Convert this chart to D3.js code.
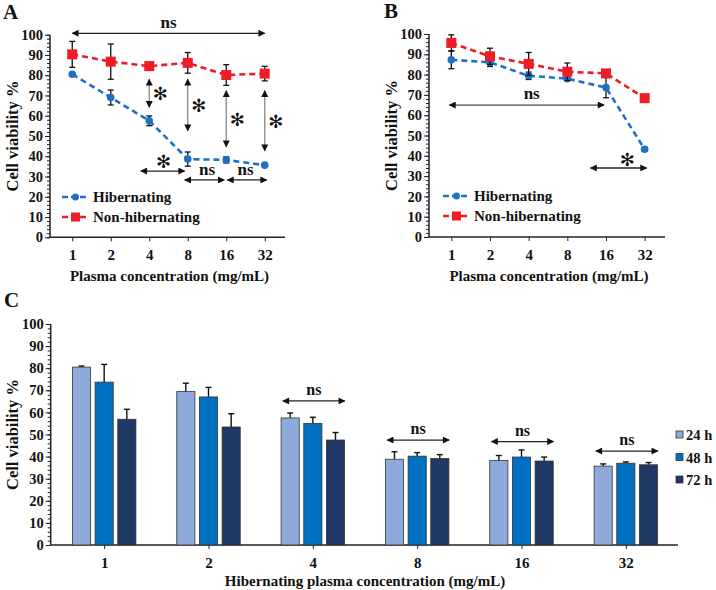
<!DOCTYPE html>
<html>
<head>
<meta charset="utf-8">
<script src="https://cdn.jsdelivr.net/npm/d3@7"></script>
<style>
  body { margin: 0; background: #fff; }
  svg text { font-family: "Liberation Serif", "Times New Roman", serif; font-weight: bold; }
</style>
</head>
<body>
<div id="chart"></div>
<script>
const concs = ["1", "2", "4", "8", "16", "32"];

// panel A
const hibA = [80.5, 69, 57.5, 38.6, 38.2, 35.6];
const hibAErr = [0.6, 3.7, 2.4, 3.5, 1.5, 0.6];
const nonA = [90.3, 86.7, 84.5, 86.1, 80.1, 80.8];
const nonAErr = [6.4, 8.7, 1.8, 5.1, 5.1, 3.6];

// panel B
const hibB = [87.3, 86, 79.4, 78, 73.6, 43.2];
const hibBErr = [4.4, 2, 1.8, 0.8, 5, 1];
const nonB = [95.6, 89, 85.3, 81.4, 80.6, 68.4];
const nonBErr = [4, 4, 5.6, 4.3, 1.2, 1];

// panel C
const times = ["24 h", "48 h", "72 h"];
const bar24 = [80.5, 69.4, 57.5, 38.8, 38.3, 35.7];
const bar48 = [73.7, 67, 55, 40.2, 39.8, 37];
const bar72 = [56.9, 53.4, 47.5, 39.1, 38, 36.3];
const err24 = [0.5, 3.8, 2.2, 3.4, 2.2, 1];
const err48 = [8, 4.3, 2.8, 1.6, 3.2, 0.6];
const err72 = [4.5, 6, 3.4, 1.8, 1.8, 1];

const yTicks = [0, 10, 20, 30, 40, 50, 60, 70, 80, 90, 100];
const seriesNames = ["Hibernating", "Non-hibernating"];

const blue = "#1f6fc6", red = "#ee1c24";
const barColors = ["#8eaadb", "#0070c0", "#203864"];

const svg = d3.select("#chart").append("svg")
  .attr("width", 716).attr("height", 590);

const defs = svg.append("defs");
defs.append("marker").attr("id", "arr")
  .attr("viewBox", "0 0 10 10").attr("refX", 9).attr("refY", 5)
  .attr("markerWidth", 8).attr("markerHeight", 7)
  .attr("markerUnits", "userSpaceOnUse")
  .attr("orient", "auto-start-reverse")
  .append("path").attr("d", "M0,0L10,5L0,10z").attr("fill", "#111");

function yAxis(g, y, x0) {
  const ax = g.append("g").attr("transform", `translate(${x0},0)`)
    .call(d3.axisLeft(y).tickValues(d3.range(0, 101, 2)).tickSize(3).tickFormat(""));
  ax.select(".domain").remove();
  ax.selectAll(".tick line").attr("stroke", "#222").attr("stroke-width", 1);
  ax.append("line").attr("y1", y(0)).attr("y2", y(100)).attr("stroke", "#222").attr("stroke-width", 1.5);
  const lab = g.append("g").attr("transform", `translate(${x0},0)`)
    .call(d3.axisLeft(y).tickValues(yTicks).tickSize(5).tickPadding(2));
  lab.select(".domain").remove();
  lab.selectAll(".tick line").attr("stroke", "#222");
  lab.selectAll("text").attr("font-size", 14.5).attr("fill", "#111");
}

function xAxis(g, x, yPos, xr) {
  g.append("line").attr("x1", xr[0]).attr("x2", xr[1]).attr("y1", yPos).attr("y2", yPos)
    .attr("stroke", "#222").attr("stroke-width", 1.5);
  const ax = g.append("g").attr("transform", `translate(0,${yPos})`)
    .call(d3.axisBottom(x).tickSize(4).tickPadding(8));
  ax.select(".domain").remove();
  ax.selectAll(".tick line").attr("stroke", "#222");
  ax.selectAll("text").attr("font-size", 15).attr("fill", "#111");
}

function arrow(g, x1, y1, x2, y2, col) {
  g.append("line").attr("x1", x1).attr("y1", y1).attr("x2", x2).attr("y2", y2)
    .attr("stroke", col || "#888").attr("stroke-width", 1.3)
    .attr("marker-start", "url(#arr)").attr("marker-end", "url(#arr)");
}

function star(g, x, y) {
  g.append("text").attr("x", x).attr("y", y).attr("text-anchor", "middle")
    .attr("font-size", 18).attr("fill", "#111")
    .style("font-family", "DejaVu Sans").text("\u273B");
}

function ns(g, x, y, size) {
  g.append("text").attr("x", x).attr("y", y).attr("text-anchor", "middle")
    .attr("font-size", size || 17).attr("fill", "#111").text("ns");
}

function linePanel(o) {
  const g = svg.append("g");
  const x = d3.scalePoint().domain(concs).range([o.x0 + 3, o.x1 - 1]).padding(0.5);
  const y = d3.scaleLinear().domain([0, 100]).range(o.yr);
  yAxis(g, y, o.x0);
  xAxis(g, x, y(0), [o.x0, o.x1]);

  g.append("text").attr("transform", `translate(${o.x0 - 32},${(y(0) + y(100)) / 2}) rotate(-90)`)
    .attr("text-anchor", "middle").attr("font-size", 16.5).attr("fill", "#111").text("Cell viability %");
  g.append("text").attr("x", (x("1") + x("32")) / 2 + 1).attr("y", y(0) + 44)
    .attr("text-anchor", "middle").attr("font-size", 15).attr("fill", "#111").text("Plasma concentration (mg/mL)");
  g.append("text").attr("x", o.letter[0]).attr("y", o.letter[1])
    .attr("font-size", 21).attr("fill", "#111").text(o.label);

  const series = [
    { v: o.hib, e: o.hibErr, c: blue, shape: "circle" },
    { v: o.non, e: o.nonErr, c: red, shape: "square" }
  ];
  const line = d3.line().x((d, i) => x(concs[i])).y(d => y(d));
  series.forEach(s => {
    g.append("path").attr("d", line(s.v)).attr("fill", "none").attr("stroke", s.c)
      .attr("stroke-width", 2.6).attr("stroke-dasharray", "6,4");
  });
  series.forEach(s => {
    s.v.forEach((v, i) => {
      const cx = x(concs[i]);
      g.append("line").attr("x1", cx).attr("x2", cx).attr("y1", y(v - s.e[i])).attr("y2", y(v + s.e[i]))
        .attr("stroke", "#111").attr("stroke-width", 1.3);
      [v - s.e[i], v + s.e[i]].forEach(t => g.append("line").attr("x1", cx - 3).attr("x2", cx + 3)
        .attr("y1", y(t)).attr("y2", y(t)).attr("stroke", "#111").attr("stroke-width", 1.3));
    });
    s.v.forEach((v, i) => {
      const cx = x(concs[i]);
      if (s.shape === "circle") g.append("circle").attr("cx", cx).attr("cy", y(v)).attr("r", 3.8).attr("fill", s.c);
      else g.append("rect").attr("x", cx - 5).attr("y", y(v) - 5).attr("width", 10).attr("height", 10).attr("fill", s.c);
    });
  });

  // legend
  series.forEach((s, i) => {
    const ly = o.leg[1] + i * 20;
    g.append("line").attr("x1", o.leg[0]).attr("x2", o.leg[0] + 27).attr("y1", ly).attr("y2", ly)
      .attr("stroke", s.c).attr("stroke-width", 2.6).attr("stroke-dasharray", "6,3");
    if (s.shape === "circle") g.append("circle").attr("cx", o.leg[0] + 13.5).attr("cy", ly).attr("r", 3.5).attr("fill", s.c);
    else g.append("rect").attr("x", o.leg[0] + 9).attr("y", ly - 4.5).attr("width", 9).attr("height", 9).attr("fill", s.c);
    g.append("text").attr("x", o.leg[0] + 31).attr("y", ly + 5).attr("font-size", 15).attr("fill", "#111").text(seriesNames[i]);
  });
  return { g, x, y };
}

// Panel A
const A = linePanel({ x0: 50, x1: 285, yr: [237.3, 34.7], hib: hibA, hibErr: hibAErr, non: nonA, nonErr: nonAErr,
  label: "A", letter: [3, 19], leg: [62, 197] });
{
  const { g, x, y } = A;
  const st = x.step();
  arrow(g, x("1"), y(100.7), x("32"), y(100.7), "#222");
  ns(g, (x("1") + x("32")) / 2, y(100.7) - 5);
  // vertical comparisons
  [["4", 78, 64.2], ["8", 78, 52.6], ["16", 72.4, 44.7], ["32", 72.4, 42.7]].forEach(d => {
    arrow(g, x(d[0]), y(d[1]), x(d[0]), y(d[2]));
    star(g, x(d[0]) + 11, (y(d[1]) + y(d[2])) / 2 + 7);
  });
  arrow(g, x("4") - st * 0.22, y(32.7), x("8") - st * 0.08, y(32.7), "#222");
  star(g, (x("4") + x("8")) / 2 - 5, y(32.7) - 3);
  arrow(g, x("8") - st * 0.08, y(28.3), x("16") - st * 0.05, y(28.3), "#222");
  ns(g, (x("8") + x("16")) / 2, y(28.3) - 5);
  arrow(g, x("16") + st * 0.03, y(28.3), x("32") + st * 0.05, y(28.3), "#222");
  ns(g, (x("16") + x("32")) / 2, y(28.3) - 5);
}

// Panel B
const B = linePanel({ x0: 429, x1: 665, yr: [237, 34], hib: hibB, hibErr: hibBErr, non: nonB, nonErr: nonBErr,
  label: "B", letter: [384, 18], leg: [443, 196] });
{
  const { g, x, y } = B;
  const st = x.step();
  arrow(g, x("1") - st * 0.05, y(65), x("16") - st * 0.05, y(65), "#444");
  ns(g, (x("1") + x("16")) / 2 + 3, y(65) - 6);
  arrow(g, x("16") - st * 0.4, y(34), x("32") + st * 0.05, y(34), "#222");
  star(g, (x("16") + x("32")) / 2 + 2, y(34) - 2);
}

// Panel C
{
  const g = svg.append("g");
  const x = d3.scaleBand().domain(concs).range([52, 678]);
  const xi = d3.scaleBand().domain(times).range([-34, 34]).paddingInner(0.2).paddingOuter(0.1);
  const y = d3.scaleLinear().domain([0, 100]).range([545, 324]);
  yAxis(g, y, 50.7);
  xAxis(g, d3.scalePoint().domain(concs).range([x("1") + x.bandwidth() / 2, x("32") + x.bandwidth() / 2]), y(0), [50.7, 678]);

  g.append("text").attr("transform", `translate(${18},${(y(0) + y(100)) / 2}) rotate(-90)`)
    .attr("text-anchor", "middle").attr("font-size", 16.5).attr("fill", "#111").text("Cell viability %");
  g.append("text").attr("x", 365).attr("y", 586)
    .attr("text-anchor", "middle").attr("font-size", 15).attr("fill", "#111").text("Hibernating plasma concentration (mg/mL)");
  g.append("text").attr("x", 4).attr("y", 307).attr("font-size", 21).attr("fill", "#111").text("C");

  const vals = [bar24, bar48, bar72], errs = [err24, err48, err72];
  times.forEach((t, k) => {
    concs.forEach((c, i) => {
      const cx = x(c) + x.bandwidth() / 2 + xi(t);
      const v = vals[k][i], e = errs[k][i];
      const mid = cx + xi.bandwidth() / 2;
      g.append("line").attr("x1", mid).attr("x2", mid).attr("y1", y(v)).attr("y2", y(v + e))
        .attr("stroke", "#111").attr("stroke-width", 1.4);
      g.append("line").attr("x1", mid - 3).attr("x2", mid + 3).attr("y1", y(v + e)).attr("y2", y(v + e))
        .attr("stroke", "#111").attr("stroke-width", 1.4);
      g.append("rect").attr("x", cx).attr("y", y(v)).attr("width", xi.bandwidth()).attr("height", y(0) - y(v))
        .attr("fill", barColors[k]).attr("stroke", "#333").attr("stroke-width", 0.8);
    });
  });

  [["4", 65.2], ["8", 47.5], ["16", 46.8], ["32", 42.5]].forEach(d => {
    const cx = x(d[0]) + x.bandwidth() / 2;
    arrow(g, cx - 30, y(d[1]), cx + 32, y(d[1]), "#222");
    ns(g, cx + 1, y(d[1]) - 6, 16);
  });

  times.forEach((t, k) => {
    const ly = 435 + k * 22.5;
    g.append("rect").attr("x", 676).attr("y", ly - 4).attr("width", 7).attr("height", 7)
      .attr("fill", barColors[k]).attr("stroke", "#333").attr("stroke-width", 0.8);
    g.append("text").attr("x", 686).attr("y", ly + 5).attr("font-size", 14.5).attr("fill", "#111").text(t);
  });
}
</script>
</body>
</html>
